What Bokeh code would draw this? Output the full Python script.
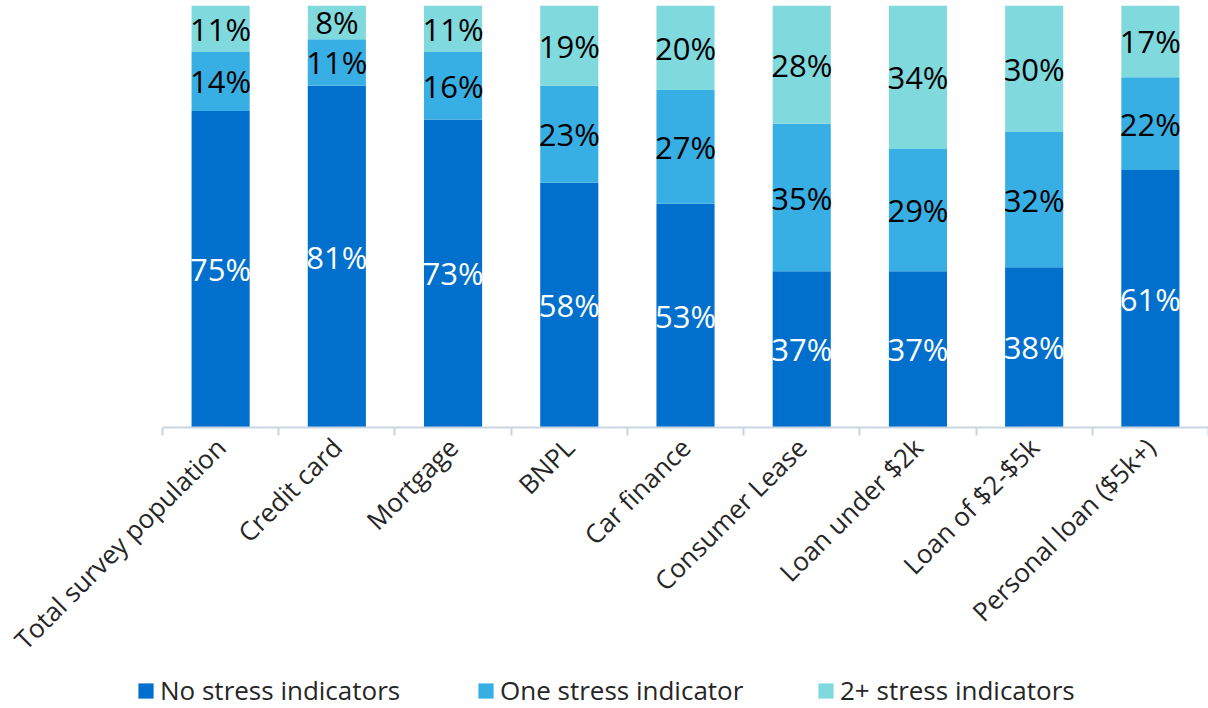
import math
from bokeh.plotting import figure
from bokeh.layouts import column, row
from bokeh.models import ColumnDataSource, FixedTicker, Legend, LegendItem, Range1d
from bokeh.core.properties import value
from bokeh.embed import file_html
from bokeh.resources import INLINE

categories = ["Total survey population", "Credit card", "Mortgage", "BNPL", "Car finance",
              "Consumer Lease", "Loan under $2k", "Loan of $2-$5k", "Personal loan ($5k+)"]
no_stress = [75, 81, 73, 58, 53, 37, 37, 38, 61]
one_stress = [14, 11, 16, 23, 27, 35, 29, 32, 22]
two_plus = [11, 8, 11, 19, 20, 28, 34, 30, 17]
series_names = ["No stress indicators", "One stress indicator", "2+ stress indicators"]
colors = ["#0070CC", "#38AFE4", "#80D9DD"]
label_colors = ["#FFFFFF", "#000000", "#000000"]

FONT = "Open Sans"

p = figure(width=1208, height=672, output_backend="svg", toolbar_location=None,
           x_range=Range1d(0, len(categories)), y_range=Range1d(0, 100),
           min_border_left=162, min_border_right=0, min_border_top=5, min_border_bottom=245)
p.outline_line_color = None
p.xgrid.visible = False
p.ygrid.visible = False
p.yaxis.visible = False

xs = [i + 0.5 for i in range(len(categories))]
series = [no_stress, one_stress, two_plus]
sources = []
bottoms = [0.0] * len(categories)
for vals, color, lc in zip(series, colors, label_colors):
    tops = [b + v for b, v in zip(bottoms, vals)]
    src = ColumnDataSource(dict(
        x=xs, bottom=list(bottoms), top=tops,
        mid=[(b + t) / 2 for b, t in zip(bottoms, tops)],
        lbl=[f"{v}%" for v in vals]))
    sources.append(src)
    p.vbar(x="x", bottom="bottom", top="top", width=0.5, source=src,
           fill_color=color, line_color=None)
    p.text(x="x", y="mid", text="lbl", source=src, text_align="center",
           text_baseline="middle", text_color=lc, text_font=value(FONT),
           text_font_size="31px")
    bottoms = tops

ax = p.xaxis[0]
ax.ticker = FixedTicker(ticks=xs, minor_ticks=list(range(len(categories) + 1)))
ax.major_label_overrides = {x: c for x, c in zip(xs, categories)}
ax.major_label_orientation = math.pi / 4
ax.major_tick_line_color = None
ax.major_tick_out = 0
ax.major_tick_in = 0
ax.minor_tick_line_color = "#C9D5E3"
ax.minor_tick_line_width = 2
ax.minor_tick_in = 0
ax.minor_tick_out = 8
ax.axis_line_color = "#C9D5E3"
ax.axis_line_width = 2
ax.major_label_text_font = FONT
ax.major_label_text_font_size = "26px"
ax.major_label_text_color = "#262626"
ax.major_label_standoff = 7

# legend strip below the chart (swatch renderers sit outside its visible range)
lg = figure(width=1208, height=36, output_backend="svg", toolbar_location=None,
            x_range=Range1d(-100, -99), y_range=Range1d(0, 1),
            min_border_left=0, min_border_right=0, min_border_top=0, min_border_bottom=0)
lg.outline_line_color = None
lg.xaxis.visible = False
lg.yaxis.visible = False
lg.grid.visible = False
swatches = []
for src, color in zip(sources, colors):
    swatches.append(lg.vbar(x="x", bottom="bottom", top="top", width=0.5, source=src,
                            fill_color=color, line_color=None))
legend = Legend(items=[LegendItem(label=n, renderers=[r]) for n, r in zip(series_names, swatches)],
                orientation="horizontal", location=(136, 0),
                label_text_font=FONT, label_text_font_size="26px", label_text_color="#262626",
                glyph_width=19, glyph_height=19, label_standoff=5, spacing=16,
                label_width=300, padding=0, margin=0,
                border_line_color=None, background_fill_alpha=0)
lg.add_layout(legend)

layout = column(p, row(lg), spacing=0)
open("out.html", "w").write(file_html(layout, INLINE))
